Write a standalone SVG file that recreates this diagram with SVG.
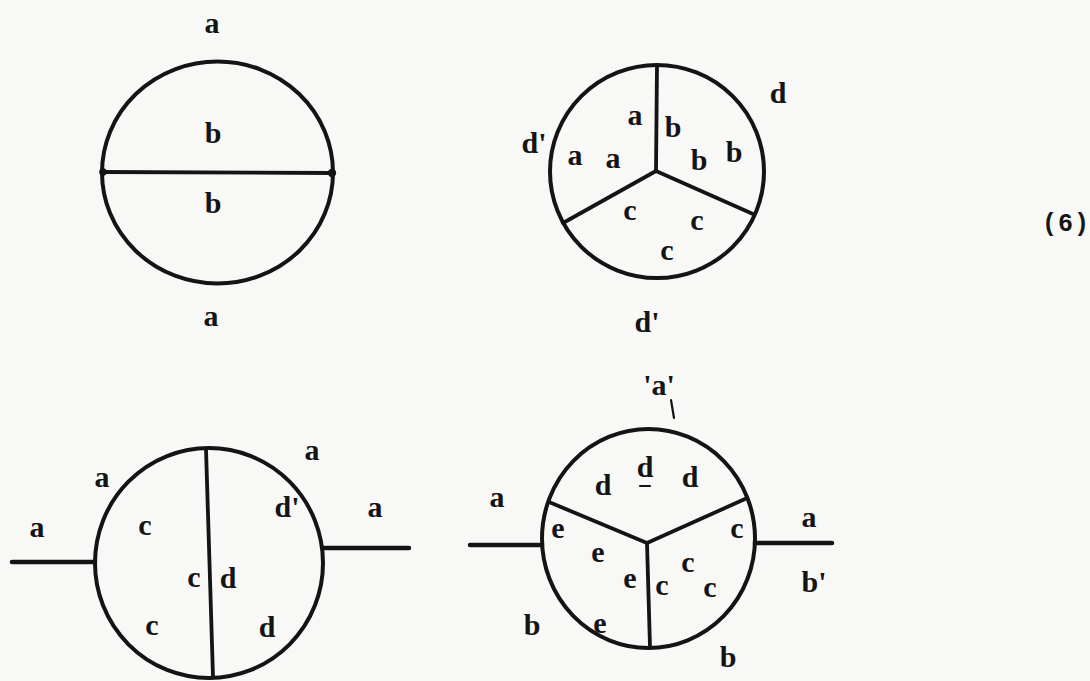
<svg xmlns="http://www.w3.org/2000/svg" width="1090" height="681" viewBox="0 0 1090 681">
<style>
.bg{fill:#f8f8f6}
.ring{fill:none;stroke:#141414;stroke-width:4}
.ln{fill:none;stroke:#141414;stroke-width:3.8;stroke-linecap:round}
.lead{fill:none;stroke:#141414;stroke-width:4.5;stroke-linecap:round}
.tick{fill:none;stroke:#141414;stroke-width:2.2;stroke-linecap:round}
text{font-family:"Liberation Serif","Times New Roman",serif;font-size:30px;font-weight:bold;fill:#141414;text-anchor:middle}
.num{font-family:"Liberation Mono","DejaVu Sans Mono",monospace;font-size:25px;letter-spacing:1px}
</style>
<rect class="bg" x="0" y="0" width="1090" height="681"/>

<g id="fig1">
<ellipse class="ring" cx="217.5" cy="172.5" rx="115.5" ry="111"/>
<line class="ln" x1="102" y1="172" x2="333" y2="173"/>
<circle cx="103" cy="172" r="3.8" fill="#141414"/>
<circle cx="332" cy="173" r="4.2" fill="#141414"/>
<text x="212" y="33">a</text>
<text x="213" y="143">b</text>
<text x="213" y="213">b</text>
<text x="211" y="326">a</text>
</g>

<g id="fig2">
<ellipse class="ring" cx="657" cy="171.5" rx="107" ry="106.5"/>
<line class="ln" x1="656" y1="171" x2="657" y2="65"/>
<line class="ln" x1="656" y1="171" x2="563" y2="223"/>
<line class="ln" x1="656" y1="171" x2="753" y2="214"/>
<text x="635" y="125">a</text>
<text x="673" y="137">b</text>
<text x="575" y="165">a</text>
<text x="613" y="168">a</text>
<text x="699" y="170">b</text>
<text x="734" y="162">b</text>
<text x="630" y="220">c</text>
<text x="697" y="230">c</text>
<text x="667" y="260">c</text>
<text x="534" y="153">d'</text>
<text x="778" y="103">d</text>
<text x="647" y="332">d'</text>
</g>

<g id="label6">
<text class="num" x="1066" y="231">(6)</text>
</g>

<g id="fig3">
<ellipse class="ring" cx="209" cy="563" rx="114" ry="115"/>
<line class="ln" x1="206" y1="449" x2="213" y2="677"/>
<text x="37" y="537">a</text>
<text x="102" y="487">a</text>
<text x="145" y="535">c</text>
<text x="312" y="460">a</text>
<text x="287" y="517">d'</text>
<text x="375" y="517">a</text>
<text x="194" y="587">c</text>
<text x="228" y="588">d</text>
<text x="152" y="635">c</text>
<text x="267" y="637">d</text>
</g>

<g id="fig4">
<ellipse class="ring" cx="648.5" cy="538.5" rx="106.5" ry="109.5"/>
<line class="ln" x1="647" y1="543" x2="549" y2="502"/>
<line class="ln" x1="647" y1="543" x2="745" y2="499"/>
<line class="ln" x1="647" y1="543" x2="650" y2="647"/>
<text x="659" y="395">'a'</text>
<path class="tick" d="M671 400 L674 418"/>
<text x="603" y="495">d</text>
<text x="645" y="477">d</text>
<line class="tick" x1="640" y1="486" x2="650" y2="486"/>
<text x="690" y="487">d</text>
<text x="497" y="507">a</text>
<text x="558" y="538">e</text>
<text x="598" y="562">e</text>
<text x="630" y="588">e</text>
<text x="600" y="633">e</text>
<text x="737" y="538">c</text>
<text x="688" y="572">c</text>
<text x="662" y="595">c</text>
<text x="710" y="597">c</text>
<text x="809" y="527">a</text>
<text x="814" y="592">b'</text>
<text x="532" y="635">b</text>
<text x="728" y="667">b</text>
</g>

<g id="connectors">
<line class="lead" x1="12" y1="562" x2="95" y2="562"/>
<line class="lead" x1="323" y1="548" x2="409" y2="548"/>
<line class="lead" x1="470" y1="545" x2="542" y2="545"/>
<line class="lead" x1="755" y1="543" x2="832" y2="543"/>
</g>
</svg>
